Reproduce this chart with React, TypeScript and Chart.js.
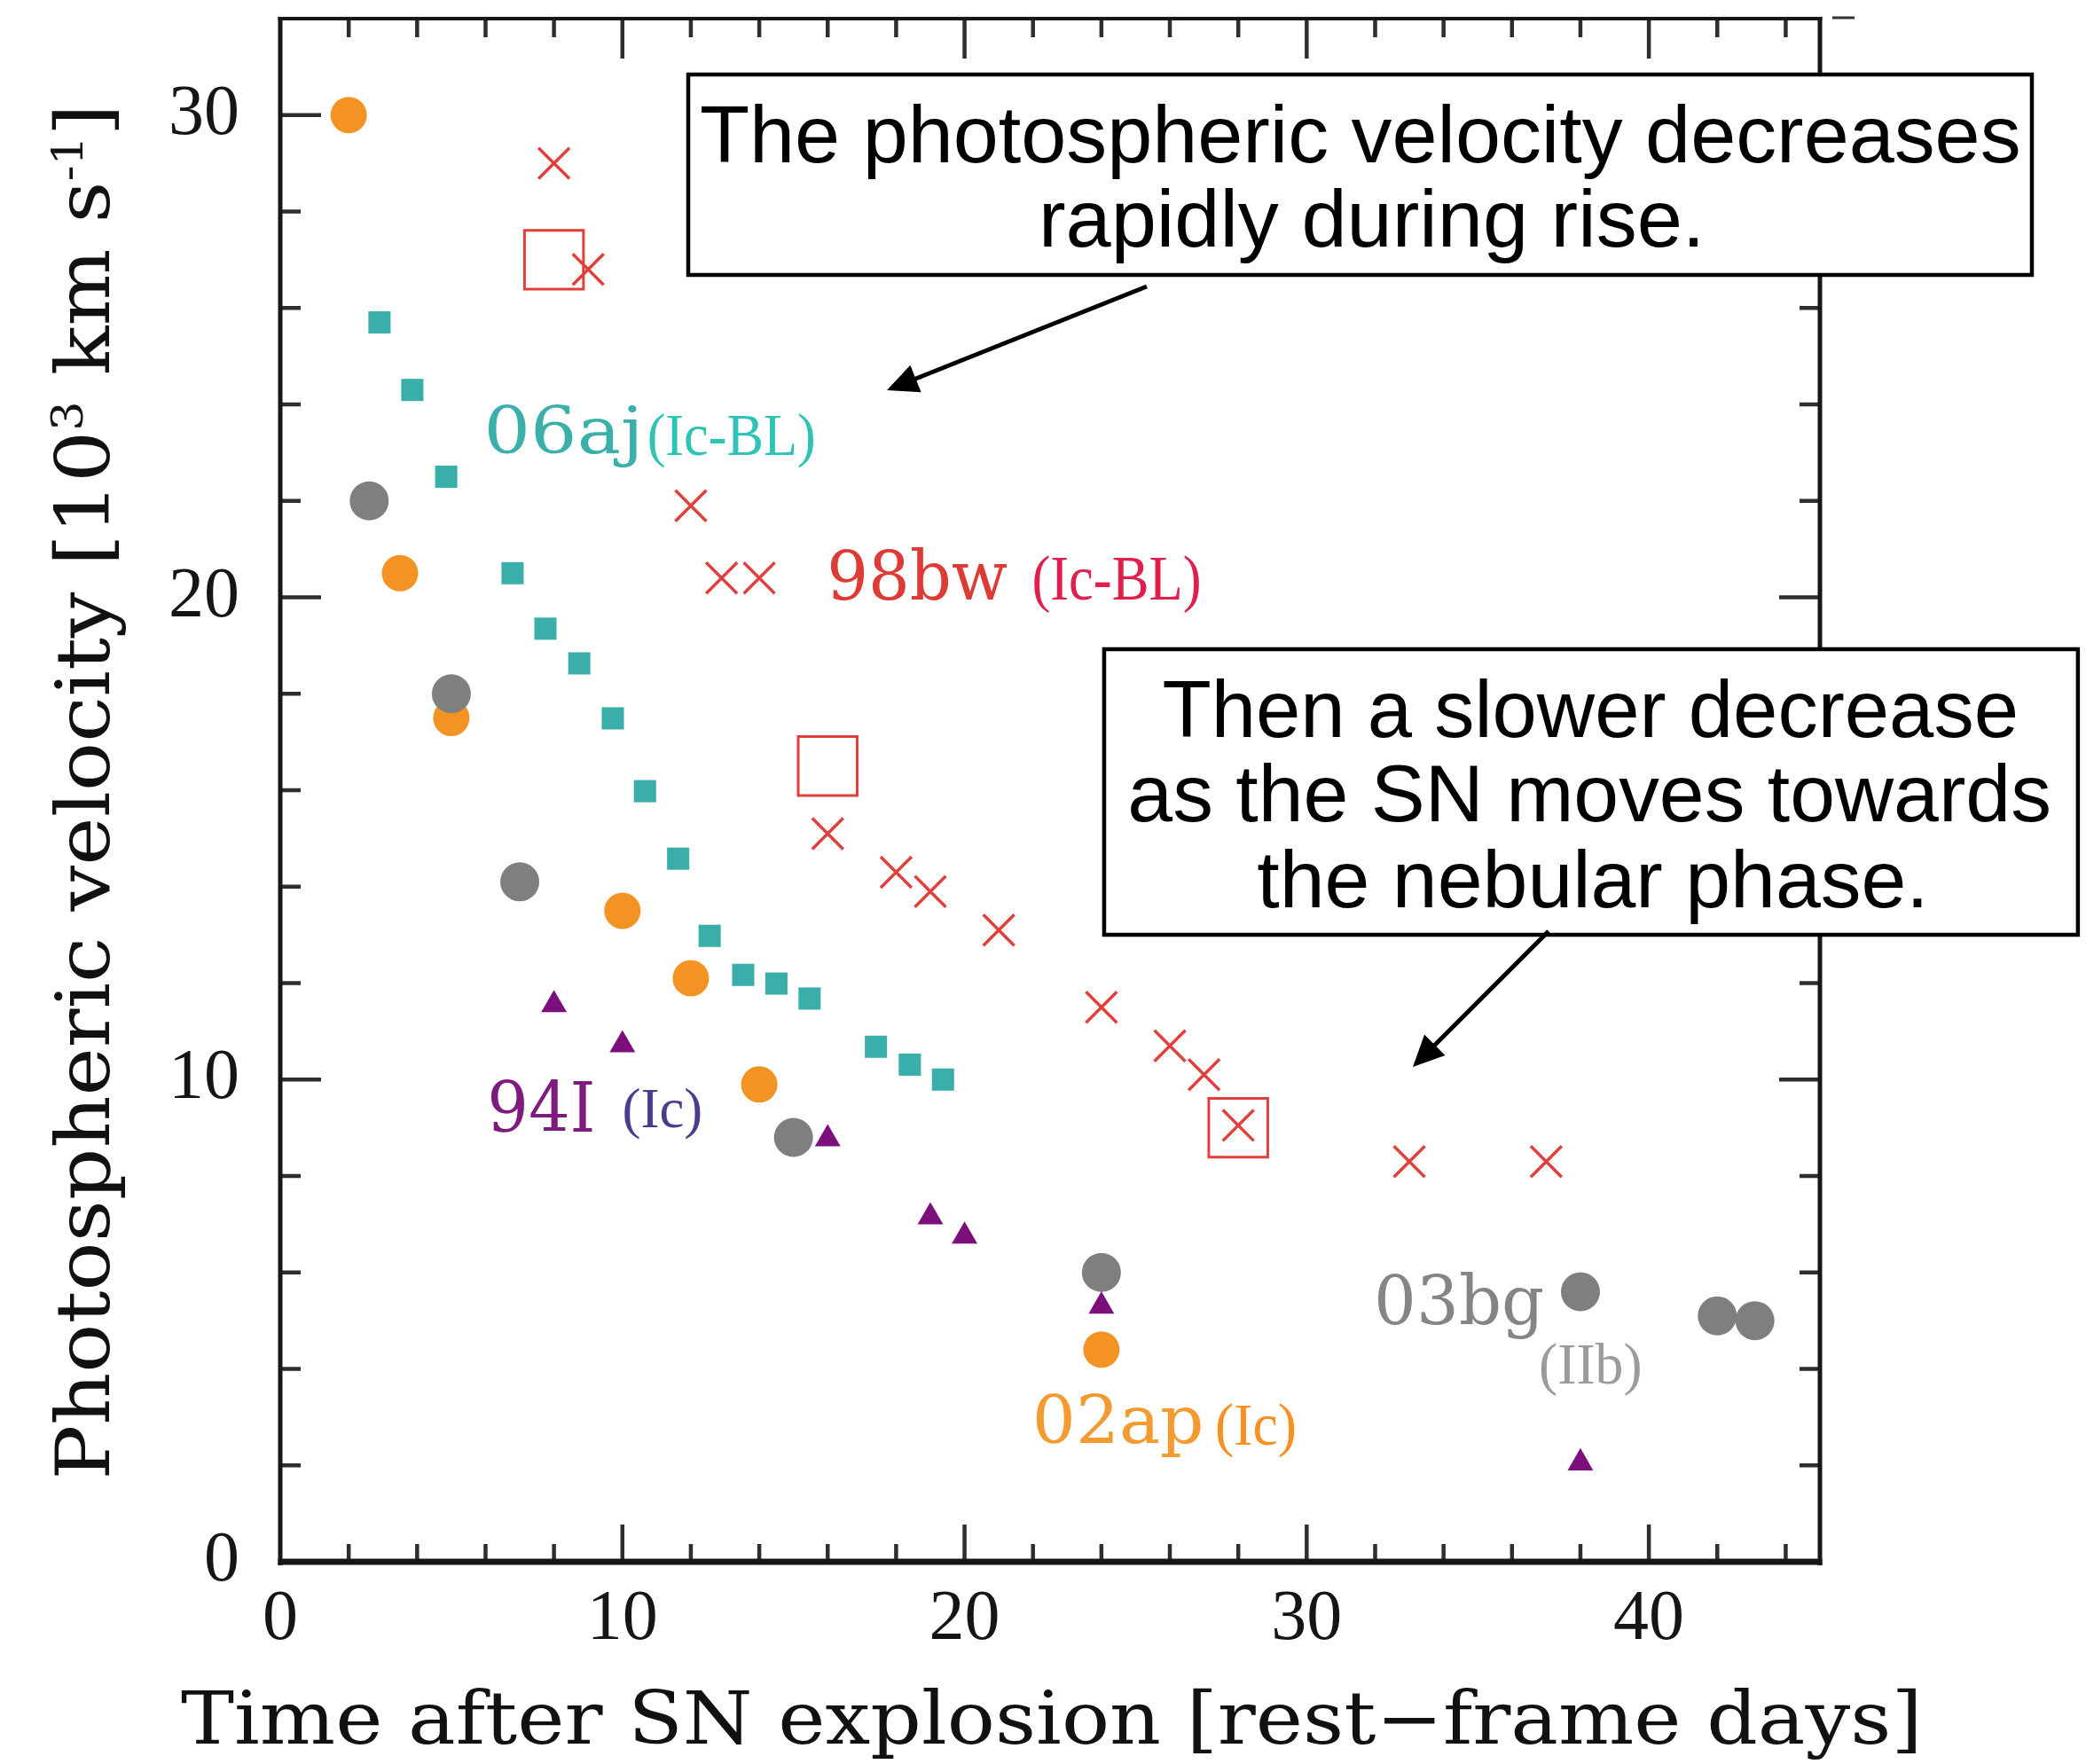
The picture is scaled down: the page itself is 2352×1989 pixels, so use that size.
import React, { useEffect, useRef } from 'react';
import { Chart, registerables } from 'chart.js';

Chart.register(...registerables);

const W = 2352;
const H = 1989;

// ---------- axes ----------
const X_MIN = 0;
const X_MAX = 45;
const Y_MIN = 0;
const Y_MAX = 32;
const xTickValues = [0, 10, 20, 30, 40];
const xTickLabels = ['0', '10', '20', '30', '40'];
const yTickValues = [0, 10, 20, 30];
const yTickLabels = ['0', '10', '20', '30'];
const X_MINOR_STEP = 2;
const Y_MINOR_STEP = 2;
const MAJOR_STEP = 10;

const xTitle = 'Time after SN explosion [rest\u2212frame days]';

// ---------- data (days after explosion, velocity in 10^3 km/s) ----------
const sn02apDays = [2, 3.5, 5, 10, 12, 14, 24];
const sn02apVel = [30.0, 20.5, 17.5, 13.5, 12.1, 9.9, 4.4];

const sn03bgDays = [2.6, 5, 7, 15, 24, 38, 42, 43.1];
const sn03bgVel = [22.0, 18.0, 14.1, 8.8, 6.0, 5.6, 5.1, 5.0];

const sn06ajDays = [2.9, 3.86, 4.85, 6.79, 7.75, 8.74, 9.72, 10.66, 11.63, 12.55, 13.53, 14.5, 15.47, 17.41, 18.4, 19.37];
const sn06ajVel = [25.7, 24.3, 22.5, 20.5, 19.35, 18.63, 17.49, 15.98, 14.58, 12.98, 12.17, 11.99, 11.68, 10.68, 10.31, 10.0];

const sn94IDays = [8, 10, 16, 19, 20, 24, 38];
const sn94IVel = [11.55, 10.72, 8.77, 7.15, 6.75, 5.3, 2.05];

const sn98bwDays = [8, 9, 12, 12.9, 14, 16, 18, 19, 21, 24, 26, 27, 28, 33, 37];
const sn98bwVel = [29.0, 26.8, 21.9, 20.4, 20.4, 15.1, 14.3, 13.9, 13.1, 11.5, 10.7, 10.1, 9.05, 8.3, 8.3];

const sn98bwBoxDays = [8, 16, 28];
const sn98bwBoxVel = [27.0, 16.5, 9.0];

// ---------- styles ----------
const ORANGE = '#F39323';
const GRAY = '#7F7F7F';
const TEAL = '#3AAEA8';
const PURPLE = '#7D0F7D';
const RED = '#E0403B';

const pts = (xs: number[], ys: number[]) => xs.map((x, i) => ({ x, y: ys[i] }));

// ---------- in-plot labels (anchor in data units, widths in px) ----------
const seriesLabels = [
  { t: '06aj', x: 6.066, y: 22.989, w: 168, font: '73px "DejaVu Serif"', c: '#3BAFAA' },
  { t: '(Ic-BL)', x: 10.77, y: 22.952, w: 186, font: '67px "Liberation Serif"', c: '#2FC3B6' },
  { t: '98bw', x: 16.071, y: 19.954, w: 199, font: '77px "DejaVu Serif"', c: '#DC3B36' },
  { t: '(Ic-BL)', x: 22.033, y: 19.954, w: 186, font: '72px "Liberation Serif"', c: '#E0204C' },
  { t: '94I', x: 6.143, y: 8.92, w: 115, font: '78px "DejaVu Serif"', c: '#7E1C7E' },
  { t: '(Ic)', x: 10.044, y: 9.012, w: 86.5, font: '64px "Liberation Serif"', c: '#4E3B8E' },
  { t: '02ap', x: 22.085, y: 2.464, w: 186, font: '74px "DejaVu Serif"', c: '#F39B30' },
  { t: '(Ic)', x: 27.373, y: 2.428, w: 87.5, font: '68px "Liberation Serif"', c: '#F7901F' },
  { t: '03bg', x: 32.091, y: 4.929, w: 186, font: '77px "DejaVu Serif"', c: '#858585' },
  { t: '(IIb)', x: 36.835, y: 3.697, w: 112, font: '65px "Liberation Serif"', c: '#9B9B9B' },
];

const noteBoxes = [
  {
    x0: 11.924, x1: 51.195, y0: 30.841, y1: 26.685,
    lines: [
      { t: 'The photospheric velocity decreases', cx: 31.56, y: 29.02, w: 1485 },
      { t: 'rapidly during rise.', cx: 31.87, y: 27.273, w: 737 },
    ],
    arrow: { x0: 25.325, y0: 26.446, x1: 17.73, y1: 24.294 },
  },
  {
    x0: 24.08, x1: 52.54, y0: 18.924, y1: 13.002,
    lines: [
      { t: 'Then a slower decrease', cx: 38.27, y: 17.103, w: 960 },
      { t: 'as the SN moves towards', cx: 38.27, y: 15.356, w: 1036 },
      { t: 'the nebular phase.', cx: 38.27, y: 13.572, w: 748 },
    ],
    arrow: { x0: 37.068, y0: 13.076, x1: 33.102, y1: 10.262 },
  },
];

function fitText(ctx: CanvasRenderingContext2D, text: string, font: string, x: number, y: number, targetW: number, align: string) {
  ctx.save();
  ctx.font = font;
  ctx.textAlign = 'left';
  ctx.textBaseline = 'alphabetic';
  const m = ctx.measureText(text);
  const ink = m.actualBoundingBoxLeft + m.actualBoundingBoxRight;
  const s = targetW / ink;
  const left = align === 'left' ? x : align === 'center' ? x - targetW / 2 : x - targetW;
  ctx.translate(left, y);
  ctx.scale(s, 1);
  ctx.fillText(text, m.actualBoundingBoxLeft, 0);
  ctx.restore();
}

function drawArrow(ctx: CanvasRenderingContext2D, x0: number, y0: number, x1: number, y1: number) {
  const headLen = 35;
  const headHalf = 16.5;
  const ang = Math.atan2(y1 - y0, x1 - x0);
  const bx = x1 - headLen * Math.cos(ang);
  const by = y1 - headLen * Math.sin(ang);
  ctx.save();
  ctx.strokeStyle = '#000';
  ctx.fillStyle = '#000';
  ctx.lineWidth = 5;
  ctx.beginPath();
  ctx.moveTo(x0, y0);
  ctx.lineTo(bx + 2 * Math.cos(ang), by + 2 * Math.sin(ang));
  ctx.stroke();
  ctx.beginPath();
  ctx.moveTo(x1, y1);
  ctx.lineTo(bx + headHalf * Math.sin(ang), by - headHalf * Math.cos(ang));
  ctx.lineTo(bx - headHalf * Math.sin(ang), by + headHalf * Math.cos(ang));
  ctx.closePath();
  ctx.fill();
  ctx.restore();
}

const framePlugin = {
  id: 'frameTicks',
  beforeDatasetsDraw(chart: any) {
    const { ctx, chartArea: a, scales } = chart;
    const xs = scales.x;
    const ys = scales.y;
    ctx.save();
    ctx.strokeStyle = '#2e2e2e';
    ctx.lineWidth = 4.5;
    ctx.lineCap = 'butt';
    ctx.beginPath();
    for (let v = X_MIN + X_MINOR_STEP; v < X_MAX; v += X_MINOR_STEP) {
      const p = xs.getPixelForValue(v);
      const major = v % MAJOR_STEP === 0;
      ctx.moveTo(p, a.bottom);
      ctx.lineTo(p, a.bottom - (major ? 42 : 20));
      ctx.moveTo(p, a.top);
      ctx.lineTo(p, a.top + (major ? 45 : 21));
    }
    for (let v = Y_MIN + Y_MINOR_STEP; v < Y_MAX; v += Y_MINOR_STEP) {
      const p = ys.getPixelForValue(v);
      const major = v % MAJOR_STEP === 0;
      ctx.moveTo(a.left, p);
      ctx.lineTo(a.left + (major ? 46 : 23), p);
      ctx.moveTo(a.right, p);
      ctx.lineTo(a.right - (major ? 46 : 23), p);
    }
    ctx.stroke();
    // frame
    ctx.fillStyle = '#161816';
    ctx.fillRect(a.left - 2.5, a.top - 2, 5, a.bottom - a.top + 6);
    ctx.fillRect(a.right - 2.5, a.top - 2, 5, a.bottom - a.top + 6);
    ctx.fillRect(a.left - 2.5, a.top - 2, a.right - a.left + 5, 4);
    ctx.fillRect(a.left - 2.5, a.bottom - 3.5, a.right - a.left + 5, 7);
    // small stray tick at the top right corner
    ctx.lineWidth = 3;
    ctx.strokeStyle = '#333';
    ctx.beginPath();
    ctx.moveTo(a.right + 14, a.top - 1);
    ctx.lineTo(a.right + 39, a.top - 1);
    ctx.stroke();
    ctx.restore();
  },
  afterDraw(chart: any) {
    const { ctx, chartArea: a, scales } = chart;
    const xs = scales.x;
    const ys = scales.y;
    const X = (v: number) => xs.getPixelForValue(v);
    const Y = (v: number) => ys.getPixelForValue(v);

    // series labels
    for (const l of seriesLabels) {
      ctx.fillStyle = l.c;
      fitText(ctx, l.t, l.font, X(l.x), Y(l.y), l.w, 'left');
    }

    // note boxes with arrows
    for (const b of noteBoxes) {
      const bx0 = X(b.x0), bx1 = X(b.x1), by0 = Y(b.y0), by1 = Y(b.y1);
      ctx.save();
      ctx.fillStyle = '#ffffff';
      ctx.fillRect(bx0, by0, bx1 - bx0, by1 - by0);
      ctx.strokeStyle = '#000';
      ctx.lineWidth = 4.5;
      ctx.strokeRect(bx0, by0, bx1 - bx0, by1 - by0);
      ctx.restore();
      ctx.fillStyle = '#000';
      for (const ln of b.lines) {
        fitText(ctx, ln.t, '91px "Liberation Sans"', X(ln.cx), Y(ln.y), ln.w, 'center');
      }
      drawArrow(ctx, X(b.arrow.x0), Y(b.arrow.y0), X(b.arrow.x1), Y(b.arrow.y1));
    }

    // axis titles
    ctx.fillStyle = '#111';
    fitText(ctx, xTitle, '82px "DejaVu Serif"', (a.left + a.right) / 2 - 2, a.bottom + 205, 1956, 'center');

    const fMain = '84px "DejaVu Serif"';
    const fSup = '48px "DejaVu Serif"';
    const segs = [
      { t: 'Photospheric velocity [10', f: fMain, dy: 0 },
      { t: '3', f: fSup, dy: -30 },
      { t: ' km s', f: fMain, dy: 0 },
      { t: '-1', f: fSup, dy: -30 },
      { t: ']', f: fMain, dy: 0 },
    ];
    ctx.save();
    ctx.textAlign = 'left';
    ctx.textBaseline = 'alphabetic';
    const widths = segs.map((s) => {
      ctx.font = s.f;
      return ctx.measureText(s.t).width;
    });
    const total = widths.reduce((p, c) => p + c, 0);
    const sc = 1551 / total;
    ctx.translate(a.left - 193, (a.top + a.bottom) / 2 + 2);
    ctx.rotate(-Math.PI / 2);
    ctx.scale(sc, 1);
    let cx = -total / 2;
    segs.forEach((s, i) => {
      ctx.font = s.f;
      ctx.fillText(s.t, cx, s.dy);
      cx += widths[i];
    });
    ctx.restore();
  },
};

export default function App() {
  const ref = useRef<HTMLCanvasElement>(null);

  useEffect(() => {
    if (!ref.current) return;
    const chart = new Chart(ref.current, {
      type: 'scatter',
      data: {
        datasets: [
          {
            label: 'SN 2002ap (Ic)',
            data: pts(sn02apDays, sn02apVel),
            pointStyle: 'circle',
            pointRadius: 20.5,
            pointHoverRadius: 20.5,
            pointBackgroundColor: ORANGE,
            pointBorderWidth: 0,
            order: 6,
          },
          {
            label: 'SN 2003bg (IIb)',
            data: pts(sn03bgDays, sn03bgVel),
            pointStyle: 'circle',
            pointRadius: 22,
            pointHoverRadius: 22,
            pointBackgroundColor: GRAY,
            pointBorderWidth: 0,
            order: 5,
          },
          {
            label: 'SN 2006aj (Ic-BL)',
            data: pts(sn06ajDays, sn06ajVel),
            pointStyle: 'rect',
            pointRadius: 17.7,
            pointHoverRadius: 17.7,
            pointBackgroundColor: TEAL,
            pointBorderWidth: 0,
            order: 4,
          },
          {
            label: 'SN 1994I (Ic)',
            data: pts(sn94IDays, sn94IVel),
            pointStyle: 'triangle',
            pointRadius: 16.7,
            pointHoverRadius: 16.7,
            pointBackgroundColor: PURPLE,
            pointBorderWidth: 0,
            order: 3,
          },
          {
            label: 'SN 1998bw (Ic-BL), boxed epochs',
            data: pts(sn98bwBoxDays, sn98bwBoxVel),
            pointStyle: 'rect',
            pointRadius: 47,
            pointHoverRadius: 47,
            pointBackgroundColor: 'rgba(0,0,0,0)',
            pointBorderColor: RED,
            pointBorderWidth: 3,
            order: 2,
          },
          {
            label: 'SN 1998bw (Ic-BL)',
            data: pts(sn98bwDays, sn98bwVel),
            pointStyle: 'crossRot',
            pointRadius: 24.7,
            pointHoverRadius: 24.7,
            pointBorderColor: RED,
            pointBorderWidth: 3.5,
            order: 1,
          },
        ],
      },
      options: {
        responsive: false,
        animation: false,
        devicePixelRatio: 1,
        layout: { autoPadding: false, padding: { left: 0, right: 300, top: 21, bottom: 0 } },
        plugins: {
          legend: { display: false },
          tooltip: { enabled: false },
          title: { display: false },
        },
        scales: {
          x: {
            type: 'linear',
            position: 'bottom',
            min: X_MIN,
            max: X_MAX,
            grid: { display: false, drawTicks: false },
            border: { display: false },
            afterBuildTicks: (s: any) => {
              s.ticks = xTickValues.map((v) => ({ value: v }));
            },
            ticks: {
              autoSkip: false,
              maxRotation: 0,
              minRotation: 0,
              padding: 18,
              color: '#151515',
              font: { family: '"Liberation Serif"', size: 80, lineHeight: 1.2 },
              callback: (v: any) => xTickLabels[xTickValues.indexOf(Number(v))] ?? '',
            },
            afterFit: (s: any) => {
              s.height = H - 1761;
              s.paddingLeft = 0;
              s.paddingRight = 0;
              s.paddingTop = 0;
              s.paddingBottom = 0;
            },
          },
          y: {
            type: 'linear',
            position: 'left',
            min: Y_MIN,
            max: Y_MAX,
            grid: { display: false, drawTicks: false },
            border: { display: false },
            afterBuildTicks: (s: any) => {
              s.ticks = yTickValues.map((v) => ({ value: v }));
            },
            ticks: {
              autoSkip: false,
              padding: 46,
              color: '#151515',
              font: { family: '"Liberation Serif"', size: 80, lineHeight: 0.4 },
              callback: (v: any) => yTickLabels[yTickValues.indexOf(Number(v))] ?? '',
            },
            afterFit: (s: any) => {
              s.width = 316;
              s.paddingLeft = 0;
              s.paddingRight = 0;
              s.paddingTop = 0;
              s.paddingBottom = 0;
            },
          },
        },
      } as any,
      plugins: [framePlugin],
    });
    return () => chart.destroy();
  }, []);

  return (
    <div style={{ position: 'absolute', left: 0, top: 0, width: W, height: H, background: '#ffffff' }}>
      <canvas ref={ref} width={W} height={H} style={{ display: 'block', width: W, height: H }} />
    </div>
  );
}
